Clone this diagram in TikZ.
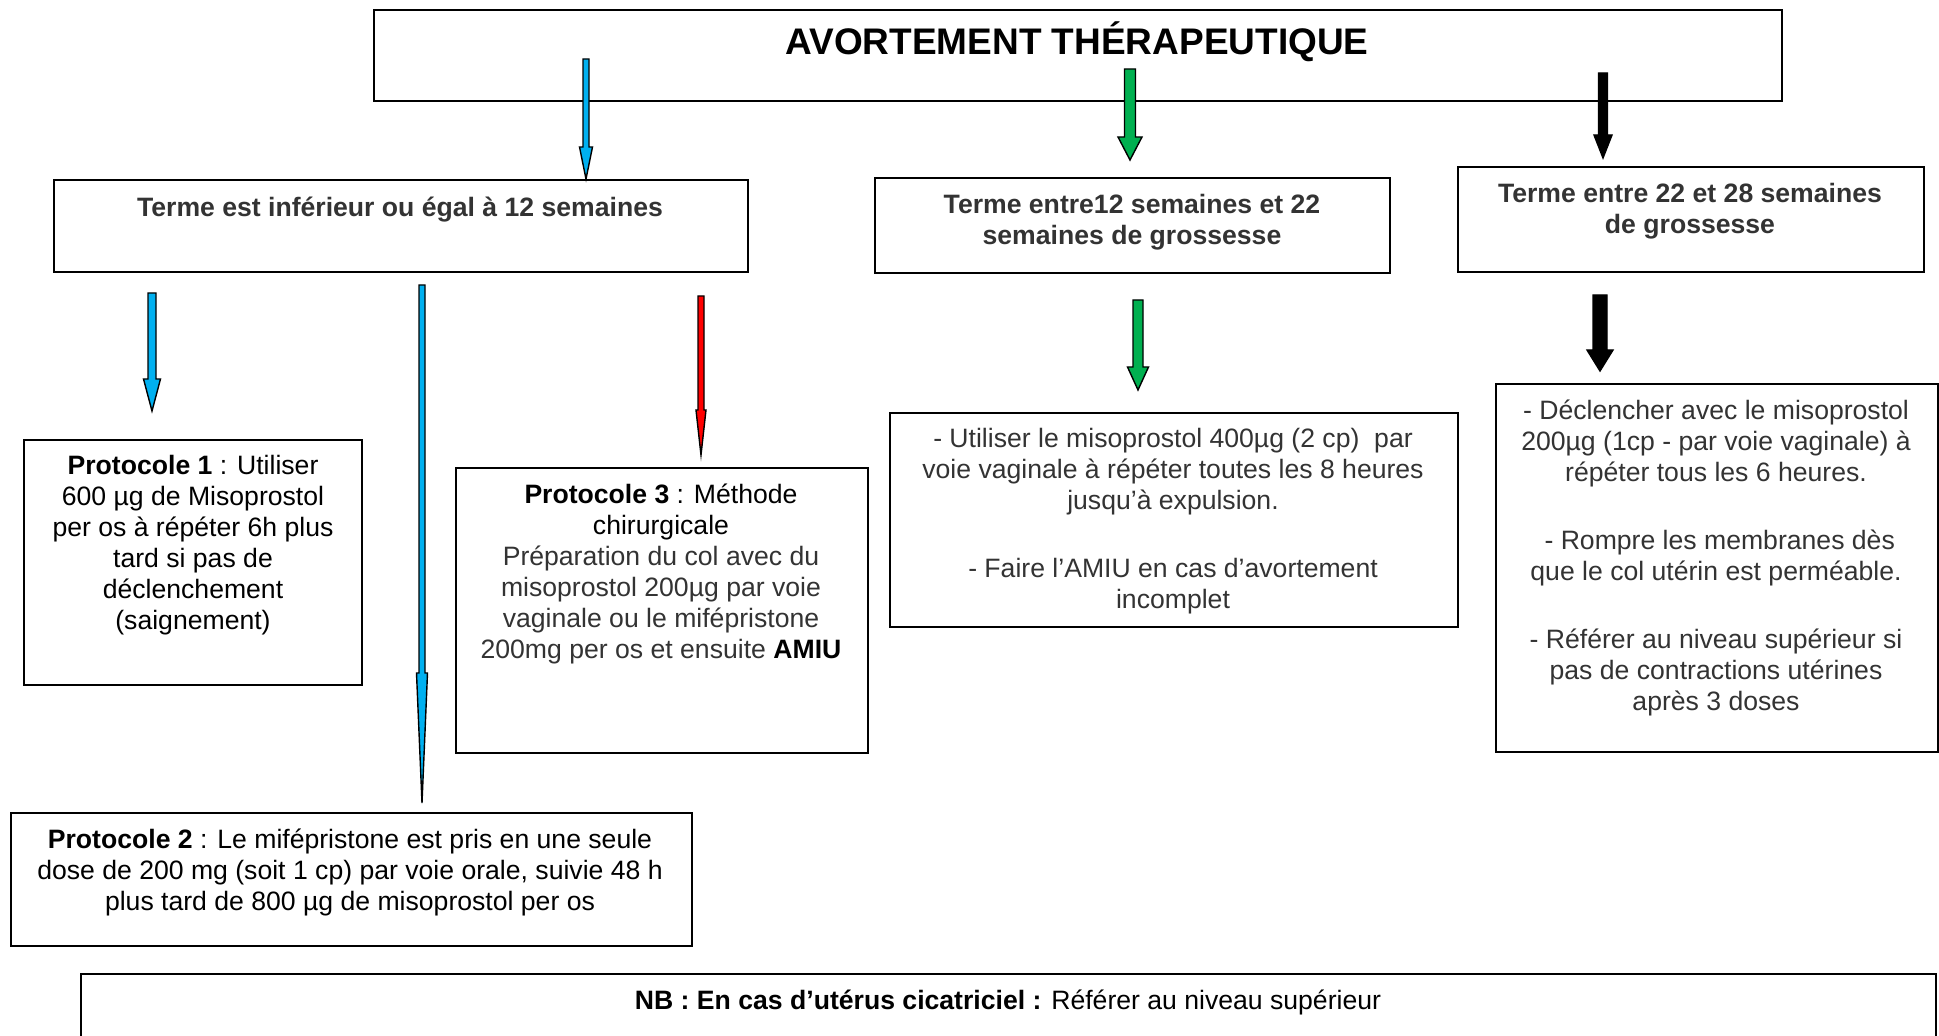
\documentclass[tikz,border=0pt]{standalone}
\usepackage{fontspec}
\setmainfont{Liberation Sans}
\usetikzlibrary{calc,shadows}

\definecolor{arrowblue}{RGB}{0,176,240}
\definecolor{arrowgreen}{RGB}{0,176,80}
\definecolor{arrowred}{RGB}{255,0,0}
\definecolor{textgray}{RGB}{51,51,51}

\tikzset{
  boxframe/.style={draw, line width=1pt, fill=white, anchor=north west, inner sep=0pt,
    drop shadow={shadow xshift=0.7pt, shadow yshift=-0.7pt, fill=black!40, opacity=1}},
  txt/.style={align=center, inner sep=0pt, font=\fontsize{13.3}{15.5}\selectfont},
  arrowline/.style={draw=black, line width=0.7pt, line join=miter},
}

% vertical block arrow: start, tip, shaft width, head width, head length (px), fill
\newcommand{\blockarrow}[6]{%
  \draw[arrowline, fill=#6] let \p1=(#1), \p2=(#2) in
    (\x1-#3*0.25pt,\y1) -- (\x1+#3*0.25pt,\y1) -- (\x1+#3*0.25pt,\y2+#5*0.5pt)
    -- (\x1+#4*0.25pt,\y2+#5*0.5pt) -- (\x1,\y2) -- (\x1-#4*0.25pt,\y2+#5*0.5pt)
    -- (\x1-#3*0.25pt,\y2+#5*0.5pt) -- cycle;}

\begin{document}
\begin{tikzpicture}[x=0.5pt, y=-0.5pt]
\useasboundingbox (0,0) rectangle (1939,1036);
\clip (0,0) rectangle (1939,1036);
\fill[white] (0,0) rectangle (1939,1036);

% frames
\node[boxframe, minimum width=704pt, minimum height=45.5pt] (title) at (373,9) {};
\node[boxframe, minimum width=347pt, minimum height=46pt] (h1) at (53,179) {};
\node[boxframe, minimum width=257.5pt, minimum height=47.5pt] (h2) at (874,177) {};
\node[boxframe, minimum width=233pt, minimum height=52.5pt] (h3) at (1457,166) {};
\node[boxframe, minimum width=169pt, minimum height=122.5pt] (p1) at (23,439) {};
\node[boxframe, minimum width=206pt, minimum height=142.5pt] (p3) at (455,467) {};
\node[boxframe, minimum width=340.5pt, minimum height=66.5pt] (p2) at (10,812) {};
\node[boxframe, minimum width=284pt, minimum height=107pt] (mid) at (889,412) {};
\node[boxframe, minimum width=221pt, minimum height=184pt] (late) at (1495,383) {};
\node[boxframe, minimum width=927.5pt, minimum height=60pt] (nb) at (80,973) {};

% texts
\node[inner sep=0pt, font=\fontsize{18.5}{21}\selectfont\bfseries] (titletext) at (1077,42)
  {AVORTEMENT THÉRAPEUTIQUE};
\node[txt, text=textgray, font=\fontsize{13.3}{15.5}\selectfont\bfseries] (h1text) at (400,210)
  {Terme est inférieur ou égal à 12 semaines};
\node[txt, text=textgray, font=\fontsize{13.3}{15.5}\selectfont\bfseries] (h2text) at (1132,222)
  {Terme entre12 semaines et 22\\semaines de grossesse};
\node[txt, text=textgray, font=\fontsize{13.3}{15.5}\selectfont\bfseries] (h3text) at (1690,211)
  {Terme entre 22 et 28 semaines\\de grossesse};
\node[txt] (p1text) at (193,545)
  {\textbf{Protocole 1} : Utiliser\\600 µg de Misoprostol\\per os à répéter 6h plus\\tard si pas de\\déclenchement\\(saignement)};
\node[txt] (p3text) at (661,574)
  {\textbf{Protocole 3} : Méthode\\chirurgicale\\
   \textcolor{textgray}{Préparation du col avec du}\\
   \textcolor{textgray}{misoprostol 200µg par voie}\\
   \textcolor{textgray}{vaginale ou le mifépristone}\\
   \textcolor{textgray}{200mg per os et ensuite} \textbf{AMIU}};
\node[txt] (p2text) at (350,872)
  {\textbf{Protocole 2} : Le mifépristone est pris en une seule\\dose de 200 mg (soit 1 cp) par voie orale, suivie 48 h\\plus tard de 800 µg de misoprostol per os};
\node[txt, text=textgray] (midtext) at (1173,521.5)
  {- Utiliser le misoprostol 400µg (2 cp)\ \ par\\voie vaginale à répéter toutes les 8 heures\\jusqu’à expulsion.\\[18.5pt]
   - Faire l’AMIU en cas d’avortement\\incomplet};
\node[txt, text=textgray] (latetext) at (1716,558)
  {- Déclencher avec le misoprostol\\200µg (1cp - par voie vaginale) à\\répéter tous les 6 heures.\\[18.5pt]
   \ - Rompre les membranes dès\\que le col utérin est perméable.\\[18.5pt]
   - Référer au niveau supérieur si\\pas de contractions utérines\\après 3 doses};
\node[txt] (nbtext) at (1008,1002)
  {\textbf{NB : En cas d’utérus cicatriciel :} Référer au niveau supérieur};

% arrow starts
\coordinate (s1) at (586,59);
\coordinate (s2) at (1130,69);
\coordinate (s3) at (1603,73);
\coordinate (s4) at (152,293);
\coordinate (s5) at (422,285);
\coordinate (s6) at (701,296);
\coordinate (s7) at (1138,300);
\coordinate (s8) at (1600,295);
% arrow tips
\coordinate (t1) at (s1 |- h1.north);
\coordinate (t2) at ($(s2 |- h2.north)+(0,-17)$);
\coordinate (t3) at ($(s3 |- h3.north)+(0,-8)$);
\coordinate (t4) at ($(s4 |- p1.north)+(0,-28)$);
\coordinate (t5) at ($(s5 |- p2.north)+(0,-9)$);
\coordinate (t6) at ($(s6 |- p3.north)+(0,-12)$);
\coordinate (t7) at ($(s7 |- mid.north)+(0,-22)$);
\coordinate (t8) at ($(s8 |- late.north)+(0,-12)$);

\blockarrow{s1}{t1}{6}{13}{32}{arrowblue}
\blockarrow{s2}{t2}{11}{24}{23}{arrowgreen}
\blockarrow{s3}{t3}{9}{18}{23}{black}
\blockarrow{s4}{t4}{8}{17}{32}{arrowblue}
\blockarrow{s5}{t5}{6}{11}{130}{arrowblue}
\blockarrow{s6}{t6}{6}{10}{45}{arrowred}
\blockarrow{s7}{t7}{10}{21}{23}{arrowgreen}
\blockarrow{s8}{t8}{14}{26}{21}{black}
\end{tikzpicture}
\end{document}
